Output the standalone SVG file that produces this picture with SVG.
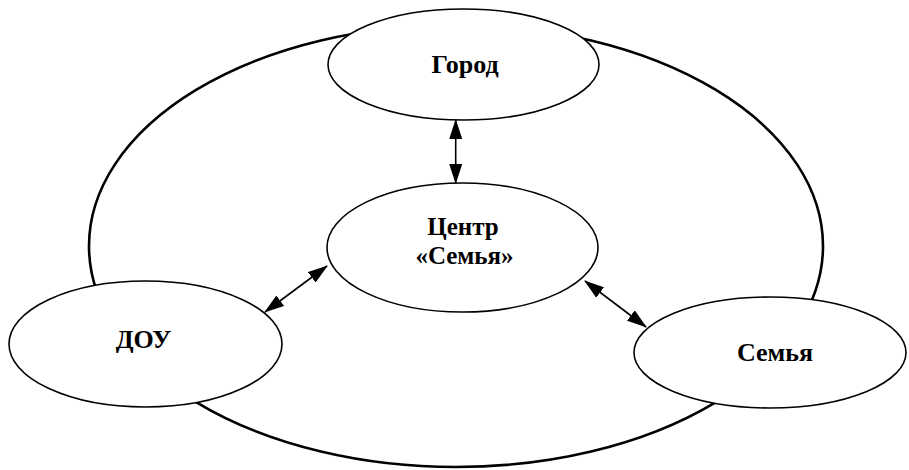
<svg xmlns="http://www.w3.org/2000/svg" width="909" height="470" viewBox="0 0 909 470">
<style>
.big{fill:none;stroke:#000;stroke-width:2.6}
.node{fill:#fff;stroke:#000;stroke-width:1.6}
.lbl{font-family:"Liberation Serif","Times New Roman",serif;font-weight:bold;font-size:26px;fill:#000;text-anchor:middle}
.lbl2{font-size:25px}
.conn{stroke:#000;stroke-width:1.6;fill:none;marker-start:url(#ah);marker-end:url(#ah)}
</style>
<defs>
<marker id="ah" markerUnits="userSpaceOnUse" markerWidth="20" markerHeight="14" refX="19" refY="6.5" orient="auto-start-reverse" viewBox="0 0 20 13">
<path d="M0,0 L20,6.5 L0,13 Z" fill="#000"/>
</marker>
</defs>
<rect width="909" height="470" fill="#fff"/>
<ellipse id="outer" class="big" cx="456" cy="246" rx="367" ry="221"/>
<g id="connectors">
<line class="conn" x1="455.7" y1="183" x2="455.7" y2="120"/>
<line class="conn" x1="327" y1="266" x2="265" y2="312"/>
<line class="conn" x1="585" y1="281" x2="646" y2="327"/>
</g>
<g id="gorod">
<ellipse class="node" cx="463.5" cy="64.5" rx="135.5" ry="55.5"/>
<text class="lbl" x="465" y="73">Город</text>
</g>
<g id="centr">
<ellipse class="node" cx="462.5" cy="247.5" rx="135.5" ry="64.5"/>
<text class="lbl lbl2" x="463" y="235">Центр</text>
<text class="lbl lbl2" x="464.5" y="264">«Семья»</text>
</g>
<g id="dou">
<ellipse class="node" cx="145.5" cy="344" rx="136.5" ry="63"/>
<text class="lbl" x="143.5" y="348">ДОУ</text>
</g>
<g id="semya">
<ellipse class="node" cx="770" cy="352.5" rx="136" ry="55.5"/>
<text class="lbl" x="775" y="361">Семья</text>
</g>
</svg>
